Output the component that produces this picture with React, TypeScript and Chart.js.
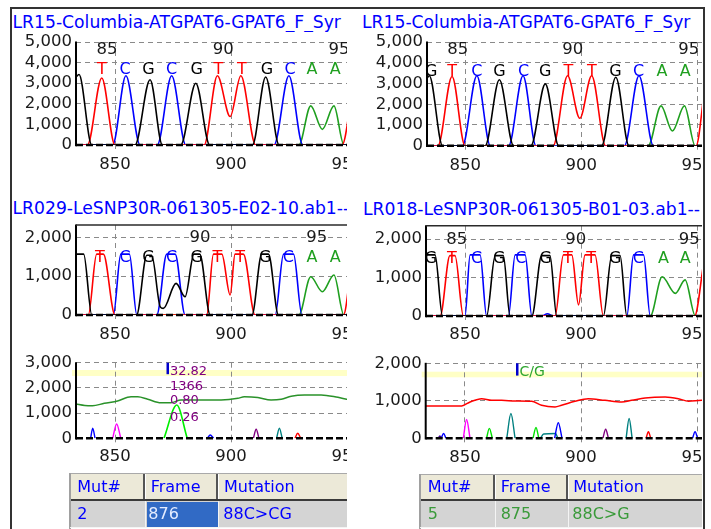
import { useEffect, useRef } from 'react';
import { Chart, registerables } from 'chart.js';

Chart.register(...registerables);

type Pt = [number, number];

// ---------------- axis values ----------------
const xTickValues = [850, 900, 950];
const yTicksRef = [0, 1000, 2000, 3000, 4000, 5000];
const yTicksSample = [0, 1000, 2000];
const yTicksDiffL = [0, 1000, 2000, 3000];
const yTicksDiffR = [0, 1000, 2000];

// ---------------- titles ----------------
const titleRefL = 'LR15-Columbia-ATGPAT6-GPAT6_F_Syr';
const titleRefR = 'LR15-Columbia-ATGPAT6-GPAT6_F_Syr';
const titleSampleL = 'LR029-LeSNP30R-061305-E02-10.ab1--';
const titleSampleR = 'LR018-LeSNP30R-061305-B01-03.ab1--';

// ---------------- panel 1 (reference, left) ----------------
const p1G: Pt[] = [[833.2, 3300], [834.5, 3420], [840, 0], [858.6, 0], [865.1, 3170], [870.4, 0], [878.3, 0], [884.8, 3000], [890.8, 0], [909.2, 0], [914.9, 3300], [920.7, 0], [965, 0]];
const p1T: Pt[] = [[833.2, 0], [838.1, 0], [844.3, 3250], [850, 0], [888.4, 0], [894.1, 3360], [899.6, 1380], [904.2, 3360], [910.6, 0], [947.8, 0], [954, 3300], [960, 0]];
const p1C: Pt[] = [[833.2, 0], [849, 0], [854.7, 3360], [860.8, 0], [868.2, 0], [874.4, 3360], [880.5, 0], [918.5, 0], [924.9, 3360], [930.9, 0], [965, 0]];
const p1A: Pt[] = [[833.2, 0], [929.2, 0], [934.3, 1900], [939.3, 760], [944.3, 1900], [948.6, 0], [965, 0]];
const p1Bases = ['T', 'C', 'G', 'C', 'G', 'T', 'T', 'G', 'C', 'A', 'A'];
const p1BaseFrames = [844.3, 854.3, 864.4, 874.4, 885.2, 894.5, 904.6, 915.4, 925.4, 934.8, 944.8];
const p1PosLabels = ['85', '90', '95'];
const p1PosFrames = [846.6, 896.6, 946.5];

// ---------------- panel 2 (reference, right) ----------------
const p2G: Pt[] = [[833.5, 3260], [834.5, 3370], [840.2, 0], [858.6, 0], [864.7, 3180], [870.8, 0], [878.3, 0], [884.5, 2980], [890.3, 0], [908.8, 0], [914.9, 3300], [920.6, 0], [965, 0]];
const p2T: Pt[] = [[833.5, 0], [838.2, 0], [844.3, 3340], [849.9, 0], [887.9, 0], [894.1, 3370], [899.4, 1320], [904.5, 3370], [910.5, 0], [949.5, 0], [954.5, 3300], [962, 0]];
const p2C: Pt[] = [[833.5, 0], [848.8, 0], [855, 3370], [860.8, 0], [868.7, 0], [874.9, 3370], [880.5, 0], [918.6, 0], [924.9, 3370], [931.1, 0], [965, 0]];
const p2A: Pt[] = [[833.5, 0], [928.9, 0], [934.4, 1920], [939.3, 710], [944.5, 1920], [949.1, 0], [965, 0]];
const p2Bases = ['G', 'T', 'C', 'G', 'C', 'G', 'T', 'T', 'G', 'C', 'A', 'A'];
const p2BaseFrames = [835.3, 844.3, 855, 864.7, 875.1, 884.5, 894.5, 904.6, 914.7, 924.7, 934.8, 944.8];
const p2PosLabels = ['85', '90', '95'];
const p2PosFrames = [846.8, 896.3, 946.3];

// ---------------- panel 3 (sample LR029) ----------------
const p3G: Pt[] = [[833.2, 1570], [836.5, 1570], [840, 0], [859.3, 0], [863.7, 1540], [865.8, 1540], [869.5, 210], [870.8, 170], [876.3, 815], [880.2, 470], [884, 1570], [886.5, 1570], [891, 0], [909, 0], [913.2, 1570], [916.1, 1570], [920.4, 0], [965, 0]];
const p3T: Pt[] = [[833.2, 0], [838.5, 0], [842.1, 1570], [845, 1570], [850, 0], [889.5, 0], [892.4, 1570], [896, 1570], [899.6, 515], [901.7, 1570], [905.3, 1570], [910.3, 0], [948.4, 0], [953, 1570], [958, 1570]];
const p3C: Pt[] = [[833.2, 0], [849.3, 0], [852.5, 1570], [856.2, 1570], [859.4, 0], [868, 0], [872.3, 1570], [875.9, 1570], [880.2, 0], [919, 0], [922.6, 1570], [926.9, 1570], [930.5, 0], [965, 0]];
const p3A: Pt[] = [[833.2, 0], [929.2, 0], [934.3, 985], [939.3, 600], [944.3, 1030], [948.6, 0], [965, 0]];
const p3Bases = ['T', 'C', 'G', 'C', 'G', 'T', 'T', 'G', 'C', 'A', 'A'];
const p3BaseFrames = [843.5, 854.3, 864.4, 874.4, 885.2, 894.1, 903.9, 914.7, 924.7, 934.8, 944.8];
const p3PosLabels = ['90', '95'];
const p3PosFrames = [886.6, 936.9];

// ---------------- panel 4 (sample LR018) ----------------
const p4G: Pt[] = [[833.2, 1590], [837.1, 1590], [840.3, 0], [859.3, 0], [863, 1570], [866.5, 1570], [869.4, 0], [878.8, 0], [883, 1570], [886.6, 1570], [889.5, 0], [909.6, 0], [913.2, 1570], [916.8, 1570], [919.7, 0], [965, 0]];
const p4T: Pt[] = [[833.2, 0], [839.3, 0], [843.5, 1570], [845.7, 1570], [849.3, 0], [888.8, 0], [892.4, 1590], [896, 1590], [898.9, 290], [901.7, 1590], [906, 1590], [909.6, 0], [948.9, 0], [954, 1590], [958, 1590]];
const p4C: Pt[] = [[833.2, 0], [850, 0], [852.2, 1590], [856.5, 1590], [859.3, 0], [868.7, 0], [871.6, 1590], [875.9, 1590], [878.8, 0], [883, 0], [885.5, 60], [888, 0], [919.7, 0], [922.6, 1590], [926.9, 1590], [929.8, 0], [965, 0]];
const p4A: Pt[] = [[833.2, 0], [929.8, 0], [934.9, 1020], [940.6, 590], [944.8, 940], [949.2, 0], [965, 0]];
const p4Bases = ['G', 'T', 'C', 'G', 'C', 'G', 'T', 'T', 'G', 'C', 'A', 'A'];
const p4BaseFrames = [835.3, 844.3, 855, 864.7, 874, 884.8, 894.3, 904.3, 914.7, 924.7, 935.5, 944.8];
const p4PosLabels = ['85', '90', '95'];
const p4PosFrames = [846.4, 897.7, 946.6];

// ---------------- panel 5 (difference, left) ----------------
const p5Signal: Pt[] = [[833.2, 1360], [837, 1300], [840.3, 1290], [845.4, 1390], [851.1, 1480], [856.9, 1650], [859.8, 1650], [864.1, 1550], [869.8, 1410], [874.1, 1410], [878.4, 1520], [882.8, 1520], [888.5, 1520], [895.7, 1520], [902.9, 1585], [905.7, 1650], [911.5, 1620], [917.2, 1520], [921.6, 1550], [925.9, 1670], [931.6, 1720], [938.8, 1720], [946, 1625], [951.7, 1520], [965, 1500]];
const p5Mutant: Pt[] = [[871.1, 0], [876.6, 1320], [881.1, 0]];
const p5Spikes: Record<string, Pt[][]> = {
  blue: [[[839.5, 0], [840.4, 400], [841.4, 0]], [[889.8, 0], [891, 130], [892.5, 0]]],
  magenta: [[[849, 0], [850.7, 570], [852.5, 0]]],
  purple: [[[909.6, 0], [910.8, 360], [912, 0]]],
  teal: [[[919.6, 0], [920.8, 400], [922, 0]]],
  red: [[[927.5, 0], [928.7, 200], [930, 0]]],
};
const p5MarkerFrame = 872.7;
const p5MarkerTexts = ['32.82', '1366', '0.80', '0.26'];

// ---------------- panel 6 (difference, right) ----------------
const p6Signal: Pt[] = [[833.1, 863], [848.6, 863], [852.2, 970], [857.2, 1057], [861.5, 1013], [865.8, 1013], [871.6, 995], [878.7, 987], [883, 880], [888.8, 837], [891.6, 880], [897.4, 987], [903.1, 1057], [910.3, 1013], [917.5, 970], [921.8, 1013], [927.6, 1075], [936.2, 1101], [941.9, 1057], [946.3, 987], [952, 1013], [965, 1000]];
const p6Spikes: Record<string, Pt[][]> = {
  navy: [[[838.5, 0], [839.2, 60], [840, 0]]],
  blue: [[[839.8, 0], [840.8, 130], [841.8, 0]], [[888.6, 0], [890.2, 415], [891.8, 0]], [[948, 0], [949.1, 175], [950.2, 0]]],
  magenta: [[[849.3, 0], [850.7, 500], [852.2, 0]]],
  lime: [[[859.3, 0], [860.5, 265], [861.8, 0]], [[879.3, 0], [880.6, 290], [881.8, 0]]],
  teal: [[[868, 0], [869.8, 660], [871.6, 0]], [[882.5, 0], [883.9, 115], [889, 130], [890, 0]], [[919.4, 0], [920.7, 530], [922, 0]]],
  purple: [[[909.4, 0], [910.6, 240], [911.8, 0]]],
  red: [[[928, 0], [929, 175], [930, 0]]],
};
const p6MarkerFrame = 872.5;
const p6MarkerTexts = ['C/G'];

// ---------------- tables ----------------
const tableHeader = ['Mut#', 'Frame', 'Mutation'];
const leftRowValues = ['2', '876', '88C>CG'];
const rightRowValues = ['5', '875', '88C>G'];

// ---------------- styles ----------------
const FONT = '"DejaVu Sans", Verdana, sans-serif';
const GRID = '#8a8a8a';
const baseColors: Record<string, string> = { A: '#1f9f1f', C: '#0000ff', G: '#000000', T: '#ff0000' };
const spikeColors: Record<string, string> = {
  blue: '#0000ff', magenta: '#ff00ff', purple: '#800080', teal: '#008080', red: '#ff0000', lime: '#00e000', navy: '#400090',
};

interface Series { pts: Pt[]; color: string; width?: number }
interface Overlay {
  letters?: string[]; letterFrames?: number[]; letterOffset?: number;
  nums?: string[]; numFrames?: number[]; numOffset?: number;
  topSolid?: boolean;
  band?: [number, number];
  marker?: { frame: number; h: number; texts: string[]; offsets: number[]; color: string; font: string };
}
interface PanelCfg {
  left: number; top: number; clipW: number; clipH: number; canvasW: number; canvasH: number;
  yW: number; padTop: number; xH: number; xPad: number; xMin: number; xMax: number; yMax: number;
  yTicks: number[]; series: Series[]; overlay: Overlay;
}

const traces = (g: Pt[], t: Pt[], c: Pt[], a: Pt[]): Series[] => [
  { pts: g, color: baseColors.G }, { pts: t, color: baseColors.T }, { pts: c, color: baseColors.C }, { pts: a, color: baseColors.A },
];
const spikes = (rec: Record<string, Pt[][]>): Series[] =>
  Object.keys(rec).flatMap((k) => rec[k].map((pts) => ({ pts, color: spikeColors[k], width: 1.4 })));

const panels: PanelCfg[] = [
  {
    left: 12, top: 30, clipW: 335, clipH: 150, canvasW: 370, canvasH: 150, yW: 64, padTop: 12, xH: 35, xPad: 6,
    xMin: 833.2, xMax: 965, yMax: 5000, yTicks: yTicksRef, series: traces(p1G, p1T, p1C, p1A),
    overlay: { letters: p1Bases, letterFrames: p1BaseFrames, letterOffset: 28, nums: p1PosLabels, numFrames: p1PosFrames, numOffset: 8 },
  },
  {
    left: 355, top: 30, clipW: 347, clipH: 150, canvasW: 377, canvasH: 150, yW: 72, padTop: 12, xH: 34.3, xPad: 6,
    xMin: 833.5, xMax: 965, yMax: 5000, yTicks: yTicksRef, series: traces(p2G, p2T, p2C, p2A),
    overlay: { letters: p2Bases, letterFrames: p2BaseFrames, letterOffset: 29.7, nums: p2PosLabels, numFrames: p2PosFrames, numOffset: 8 },
  },
  {
    left: 12, top: 218, clipW: 335, clipH: 135, canvasW: 370, canvasH: 135, yW: 64, padTop: 7, xH: 38, xPad: 6,
    xMin: 833.2, xMax: 965, yMax: 2320, yTicks: yTicksSample, series: traces(p3G, p3T, p3C, p3A),
    overlay: { letters: p3Bases, letterFrames: p3BaseFrames, letterOffset: 33.3, nums: p3PosLabels, numFrames: p3PosFrames, numOffset: 12.3, topSolid: true },
  },
  {
    left: 355, top: 218, clipW: 347, clipH: 135, canvasW: 377, canvasH: 135, yW: 71, padTop: 7.7, xH: 37, xPad: 5,
    xMin: 833.2, xMax: 965, yMax: 2350, yTicks: yTicksSample, series: traces(p4G, p4T, p4C, p4A),
    overlay: { letters: p4Bases, letterFrames: p4BaseFrames, letterOffset: 33.6, nums: p4PosLabels, numFrames: p4PosFrames, numOffset: 14.3, topSolid: true },
  },
  {
    left: 12, top: 355, clipW: 335, clipH: 117, canvasW: 370, canvasH: 117, yW: 64, padTop: 7.7, xH: 33.7, xPad: 4.5,
    xMin: 833.2, xMax: 965, yMax: 3000, yTicks: yTicksDiffL,
    series: [{ pts: p5Signal, color: '#2a922a', width: 1.5 }, { pts: p5Mutant, color: '#00ee00', width: 1.6 }, ...spikes(p5Spikes)],
    overlay: {
      band: [7.3, 13.3],
      marker: { frame: p5MarkerFrame, h: 11.5, texts: p5MarkerTexts, offsets: [9.3, 24, 38, 55.3], color: '#800080', font: `13px ${FONT}` },
    },
  },
  {
    left: 355, top: 355, clipW: 347, clipH: 117, canvasW: 377, canvasH: 117, yW: 70.7, padTop: 8.3, xH: 33.7, xPad: 6,
    xMin: 833.1, xMax: 965, yMax: 2000, yTicks: yTicksDiffR,
    series: [{ pts: p6Signal, color: '#ff0000', width: 1.5 }, ...spikes(p6Spikes)],
    overlay: {
      band: [8.4, 14],
      marker: { frame: p6MarkerFrame, h: 12.3, texts: p6MarkerTexts, offsets: [9.4], color: '#2ea52e', font: `14px ${FONT}` },
    },
  },
];

function makeOverlay(o: Overlay) {
  return {
    id: 'overlay',
    beforeDraw(chart: any) {
      if (!o.band) return;
      const { ctx, chartArea: a } = chart;
      ctx.save();
      ctx.fillStyle = '#ffffc6';
      ctx.fillRect(a.left - 4, a.top + o.band[0], a.right - a.left + 4, o.band[1] - o.band[0]);
      ctx.restore();
    },
    afterDatasetsDraw(chart: any) {
      const { ctx, chartArea: a, scales } = chart;
      const xs = scales.x;
      const ys = scales.y;
      const y0 = ys.getPixelForValue(0);
      ctx.save();
      ctx.strokeStyle = '#000';
      ctx.lineWidth = 2.5;
      ctx.setLineDash([7, 3]);
      ctx.beginPath();
      ctx.moveTo(a.left, y0);
      ctx.lineTo(a.right, y0);
      ctx.stroke();
      ctx.setLineDash([]);
      ctx.lineWidth = 2;
      ctx.beginPath();
      ctx.moveTo(a.left, a.top - 0.5);
      ctx.lineTo(a.left, y0 + 1.2);
      ctx.stroke();
      if (o.topSolid) {
        ctx.strokeStyle = '#2a2a2a';
        ctx.lineWidth = 1.5;
        ctx.beginPath();
        ctx.moveTo(a.left, a.top);
        ctx.lineTo(a.right, a.top);
        ctx.stroke();
      }
      ctx.textAlign = 'center';
      ctx.textBaseline = 'middle';
      ctx.font = `16.5px ${FONT}`;
      if (o.nums && o.numFrames) {
        ctx.fillStyle = '#1a1a1a';
        o.nums.forEach((t, i) => ctx.fillText(t, xs.getPixelForValue(o.numFrames![i]), a.top + (o.numOffset || 0)));
      }
      if (o.letters && o.letterFrames) {
        ctx.font = `16px ${FONT}`;
        o.letters.forEach((t, i) => {
          ctx.fillStyle = baseColors[t];
          ctx.fillText(t, xs.getPixelForValue(o.letterFrames![i]), a.top + (o.letterOffset || 0));
        });
      }
      if (o.marker) {
        const m = o.marker;
        const mx = xs.getPixelForValue(m.frame);
        ctx.fillStyle = '#0000cc';
        ctx.fillRect(mx - 1.2, a.top, 2.5, m.h);
        ctx.font = m.font;
        ctx.textAlign = 'left';
        ctx.fillStyle = m.color;
        m.texts.forEach((t, i) => ctx.fillText(t, mx + 2.2, a.top + m.offsets[i]));
      }
      ctx.restore();
    },
  };
}

function ChartPanel({ cfg }: { cfg: PanelCfg }) {
  const ref = useRef<HTMLCanvasElement | null>(null);
  useEffect(() => {
    if (!ref.current) return;
    const tickFont = { family: 'DejaVu Sans', size: 16.5 };
    const chart = new Chart(ref.current, {
      type: 'line',
      data: {
        datasets: cfg.series.map((s) => ({
          data: s.pts.map(([x, y]) => ({ x, y })),
          borderColor: s.color,
          backgroundColor: s.color,
          borderWidth: s.width ?? 1.6,
          pointRadius: 0,
          pointHoverRadius: 0,
          fill: false,
          cubicInterpolationMode: 'monotone',
          tension: 0,
        })),
      },
      options: {
        animation: false,
        responsive: false,
        maintainAspectRatio: false,
        events: [],
        layout: { padding: { top: cfg.padTop, left: 0, right: 0, bottom: 0 } },
        plugins: { legend: { display: false }, tooltip: { enabled: false } },
        scales: {
          x: {
            type: 'linear',
            min: cfg.xMin,
            max: cfg.xMax,
            bounds: 'data',
            afterBuildTicks: (s: any) => { s.ticks = xTickValues.map((v) => ({ value: v })); },
            afterFit: (s: any) => { s.height = cfg.xH; s.paddingLeft = 0; s.paddingRight = 0; },
            grid: { color: GRID, lineWidth: 1, drawTicks: true, tickLength: 4, tickColor: GRID },
            border: { display: false, dash: [5, 4] },
            ticks: { font: tickFont, color: '#1a1a1a', padding: cfg.xPad, maxRotation: 0, minRotation: 0, autoSkip: false, callback: (v: any) => String(v) },
          },
          y: {
            type: 'linear',
            min: 0,
            max: cfg.yMax,
            bounds: 'data',
            afterBuildTicks: (s: any) => { s.ticks = cfg.yTicks.map((v) => ({ value: v })); },
            afterFit: (s: any) => { s.width = cfg.yW; s.paddingTop = 0; s.paddingBottom = 0; },
            grid: { color: (c: any) => (c.tick && c.tick.value === 0 ? 'rgba(0,0,0,0)' : GRID), lineWidth: 1, drawTicks: false },
            border: { display: false, dash: [5, 4] },
            ticks: { font: tickFont, color: '#1a1a1a', padding: 4, autoSkip: false, callback: (v: any) => Number(v).toLocaleString('en-US') },
          },
        },
      },
      plugins: [makeOverlay(cfg.overlay)],
    } as any);
    return () => chart.destroy();
  }, [cfg]);
  return (
    <div style={{ position: 'absolute', left: cfg.left, top: cfg.top, width: cfg.clipW, height: cfg.clipH, overflow: 'hidden' }}>
      <canvas ref={ref} width={cfg.canvasW} height={cfg.canvasH} style={{ display: 'block', width: cfg.canvasW, height: cfg.canvasH }} />
    </div>
  );
}

function Title({ text, left, width, cy }: { text: string; left: number; width: number; cy: number }) {
  return (
    <div style={{ position: 'absolute', left, top: cy - 10, width, height: 20, lineHeight: '20px', overflow: 'hidden', whiteSpace: 'nowrap', color: '#0000ff', fontFamily: FONT, fontSize: 17.2 }}>
      {text}
    </div>
  );
}

interface TableProps {
  clipLeft: number; clipW: number; cols: number[]; hTop: number; hBot: number; rBot: number;
  hTextX: number[]; rTextX: number[]; values: string[]; rowColor: string; selected?: number;
}

function MutTable(p: TableProps) {
  const oy = 468;
  const X = (x: number) => x - p.clipLeft;
  const Y = (y: number) => y - oy;
  const right = p.clipLeft + p.clipW + 20;
  const els: any[] = [];
  els.push(<div key="hb" style={{ position: 'absolute', left: X(p.cols[0]), top: Y(p.hTop), width: right - p.cols[0], height: p.hBot - p.hTop, background: '#ece9d8', borderTop: '1px solid #a9a9a9', boxSizing: 'border-box' }} />);
  els.push(<div key="rb" style={{ position: 'absolute', left: X(p.cols[0]), top: Y(p.hBot), width: right - p.cols[0], height: p.rBot - p.hBot, background: '#d4d4d4' }} />);
  els.push(<div key="hl" style={{ position: 'absolute', left: X(p.cols[0]), top: Y(p.hBot - 2), width: right - p.cols[0], height: 2, background: '#3a3a3a' }} />);
  els.push(<div key="ol" style={{ position: 'absolute', left: X(p.cols[0]) - 1, top: Y(p.hTop), width: 2, height: p.rBot - p.hTop + 3, background: '#a0a0a0' }} />);
  els.push(<div key="bl" style={{ position: 'absolute', left: X(p.cols[0]), top: Y(p.rBot), width: right - p.cols[0], height: 1, background: '#f4f4f4' }} />);
  p.cols.slice(1).forEach((c, i) => {
    els.push(<div key={'hs' + i} style={{ position: 'absolute', left: X(c) - 2, top: Y(p.hTop) + 1, width: 1.6, height: p.hBot - p.hTop - 3, background: '#555' }} />);
    els.push(<div key={'hw' + i} style={{ position: 'absolute', left: X(c), top: Y(p.hTop) + 1, width: 1, height: p.hBot - p.hTop - 3, background: '#fff' }} />);
    els.push(<div key={'rs' + i} style={{ position: 'absolute', left: X(c), top: Y(p.hBot), width: 1, height: p.rBot - p.hBot, background: '#f4f4f4' }} />);
  });
  if (p.selected !== undefined) {
    const s = p.selected;
    els.push(<div key="sel" style={{ position: 'absolute', left: X(p.cols[s]) + 1.5, top: Y(p.hBot) + 1.5, width: p.cols[s + 1] - p.cols[s] - 2, height: p.rBot - p.hBot - 1.5, background: '#316ac5' }} />);
  }
  tableHeader.forEach((t, i) => {
    els.push(<div key={'ht' + i} style={{ position: 'absolute', left: X(p.hTextX[i]), top: Y(p.hTop), height: p.hBot - p.hTop, lineHeight: `${p.hBot - p.hTop}px`, color: '#0000ff', whiteSpace: 'nowrap' }}>{t}</div>);
  });
  p.values.forEach((t, i) => {
    const col = p.selected === i ? '#e4ecff' : p.rowColor;
    els.push(<div key={'rt' + i} style={{ position: 'absolute', left: X(p.rTextX[i]), top: Y(p.hBot), height: p.rBot - p.hBot, lineHeight: `${p.rBot - p.hBot}px`, color: col, whiteSpace: 'nowrap' }}>{t}</div>);
  });
  return (
    <div style={{ position: 'absolute', left: p.clipLeft, top: oy, width: p.clipW, height: 529 - oy, overflow: 'hidden', fontFamily: FONT, fontSize: 16 }}>
      {els}
    </div>
  );
}

export default function App() {
  return (
    <div style={{ position: 'absolute', left: 0, top: 0, width: 711, height: 529, background: '#fff', overflow: 'hidden' }}>
      <div style={{ position: 'absolute', left: 10, top: 7, width: 695, height: 540, border: '2px solid #333', boxSizing: 'border-box' }} />
      <Title text={titleRefL} left={12.5} width={334.5} cy={21.7} />
      <Title text={titleRefR} left={362} width={340} cy={21.7} />
      <Title text={titleSampleL} left={12.5} width={334.5} cy={208.3} />
      <Title text={titleSampleR} left={363} width={339} cy={209.3} />
      {panels.map((cfg, i) => <ChartPanel key={i} cfg={cfg} />)}
      <MutTable clipLeft={12} clipW={335} cols={[70, 145, 218.3]} hTop={473} hBot={500.5} rBot={527}
        hTextX={[77.3, 150.7, 224]} rTextX={[77.3, 148.3, 223.3]} values={leftRowValues} rowColor="#0000ff" selected={1} />
      <MutTable clipLeft={355} clipW={347} cols={[420, 495, 568.3]} hTop={474.3} hBot={501} rBot={527.3}
        hTextX={[427.7, 500.7, 573.3]} rTextX={[427.7, 500.7, 572.3]} values={rightRowValues} rowColor="#3a9a3a" />
    </div>
  );
}
